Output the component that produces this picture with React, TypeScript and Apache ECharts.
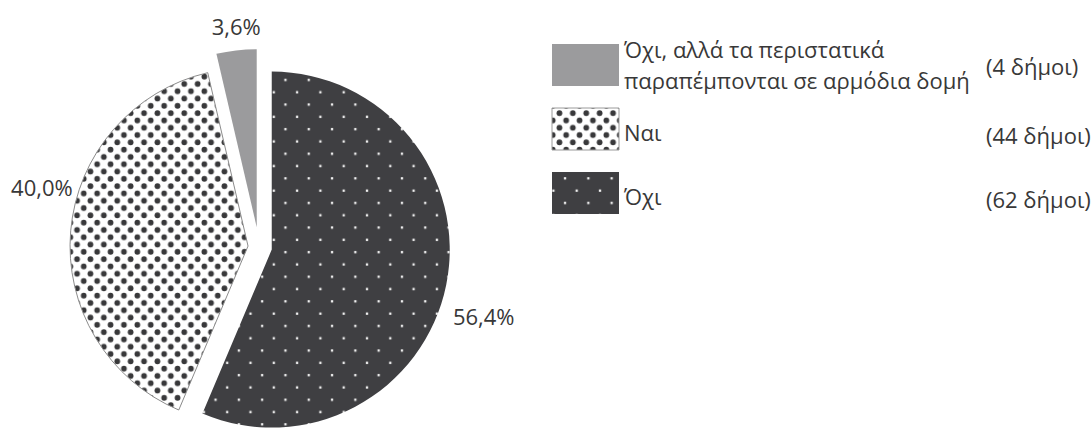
import React, { useEffect, useRef } from 'react';
import * as echarts from 'echarts';

// ---- data ----
const categories = ['Όχι', 'Ναι', 'Όχι, αλλά τα περιστατικά παραπέμπονται σε αρμόδια δομή'];
const municipalities = [62, 44, 4];
const legendLabels = ['Όχι', 'Ναι', 'Όχι, αλλά τα περιστατικά\nπαραπέμπονται σε αρμόδια δομή'];
const unitLabel = 'δήμοι';

// ---- styling ----
const FONT = "'Open Sans', 'Noto Sans', sans-serif";
const TEXT = '#383838';
const DARK = '#3f3f42';
const GREY = '#9b9b9d';

function svgTile(w: number, h: number, inner: string) {
  const svg = `<svg xmlns="http://www.w3.org/2000/svg" width="${w}" height="${h}" viewBox="0 0 ${w} ${h}">${inner}</svg>`;
  return { image: 'data:image/svg+xml;charset=utf-8,' + encodeURIComponent(svg), repeat: 'repeat', imageWidth: w, imageHeight: h };
}

const darkPattern = () =>
  svgTile(23.3, 24.6,
    `<rect width="23.3" height="24.6" fill="${DARK}"/>` +
    `<rect x="4.7" y="5.0" width="2.3" height="2.3" fill="#f2f2f2"/>` +
    `<rect x="16.35" y="17.3" width="2.3" height="2.3" fill="#f2f2f2"/>`);

const dotPattern = () =>
  svgTile(13.4, 14.6,
    `<rect width="13.4" height="14.6" fill="#ffffff"/>` +
    `<circle cx="3.35" cy="3.65" r="2.85" fill="#38383a"/>` +
    `<circle cx="10.05" cy="10.95" r="2.85" fill="#38383a"/>`);

const sliceStyles: any[] = [
  { color: darkPattern(), borderWidth: 0 },
  { color: dotPattern(), borderColor: '#8c8c8c', borderWidth: 1 },
  { color: GREY, borderWidth: 0 },
];

const CENTER = [259, 247];
const RADIUS = 178;
const EXPLODE = [13, 11, 20];
const LABEL_SHIFT = [[-13, 28], [22, -43], [31, -9]];

export default function App() {
  const ref = useRef<HTMLDivElement>(null);
  useEffect(() => {
    if (!ref.current) return;
    const chart = echarts.init(ref.current, null, { renderer: 'svg' });
    const total = municipalities.reduce((a, b) => a + b, 0);
    let acc = 0;
    const series = municipalities.map((v, i) => {
      const start = (acc / total) * Math.PI * 2;
      acc += v;
      const end = (acc / total) * Math.PI * 2;
      const mid = (start + end) / 2;
      const cx = CENTER[0] + EXPLODE[i] * Math.sin(mid);
      const cy = CENTER[1] - EXPLODE[i] * Math.cos(mid);
      return {
        type: 'pie',
        center: [cx, cy],
        radius: RADIUS,
        startAngle: 90,
        clockwise: true,
        avoidLabelOverlap: false,
        silent: true,
        emphasis: { disabled: true },
        labelLine: { show: false, length: 15, length2: 0 },
        labelLayout: { dx: LABEL_SHIFT[i][0], dy: LABEL_SHIFT[i][1] },
        data: municipalities.map((w, j) => ({
          value: w,
          name: categories[j],
          itemStyle: j === i ? sliceStyles[j] : { color: 'rgba(0,0,0,0)', borderWidth: 0 },
          label:
            j === i
              ? {
                  show: true,
                  position: 'outside',
                  fontFamily: FONT,
                  fontSize: 22,
                  color: TEXT,
                  formatter: () => ((w / total) * 100).toFixed(1).replace('.', ',') + '%',
                }
              : { show: false },
        })),
      };
    });

    // legend (drawn in reverse data order: grey, dotted, dark)
    const order = [2, 1, 0];
    const rowY = [44, 108, 172];
    const rowTextY = [64, 132, 196];
    const graphics: any[] = [];
    order.forEach((j, k) => {
      graphics.push({
        type: 'rect',
        shape: { x: 552, y: rowY[k], width: 67, height: 42 },
        style: {
          fill: j === 0 ? darkPattern() : j === 1 ? dotPattern() : GREY,
          stroke: j === 1 ? '#9a9a9a' : null,
          lineWidth: j === 1 ? 1 : 0,
        },
        silent: true,
      });
      graphics.push({
        type: 'text',
        x: 624,
        y: rowTextY[k],
        style: {
          text: legendLabels[j],
          font: `22px ${FONT}`,
          fill: TEXT,
          align: 'left',
          verticalAlign: 'middle',
          lineHeight: 31,
        },
        silent: true,
      });
      graphics.push({
        type: 'text',
        x: 986,
        y: k === 0 ? 66 : rowTextY[k] + 3,
        style: {
          text: `(${municipalities[j]} ${unitLabel})`,
          font: `22px ${FONT}`,
          fill: TEXT,
          align: 'left',
          verticalAlign: 'middle',
        },
        silent: true,
      });
    });

    chart.setOption({
      animation: false,
      backgroundColor: '#ffffff',
      series,
      graphic: graphics,
    });
    return () => chart.dispose();
  }, []);
  return (
    <div
      ref={ref}
      style={{ position: 'fixed', left: 0, top: 0, width: 1091, height: 433 }}
    />
  );
}
